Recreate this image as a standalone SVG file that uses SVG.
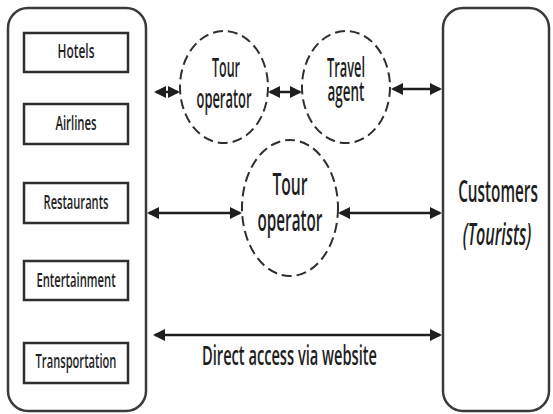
<svg xmlns="http://www.w3.org/2000/svg" width="553" height="414" viewBox="0 0 553 414">
  <style>
    .panel { fill: #ffffff; stroke: #3a3a3a; stroke-width: 2.5; }
    .item { fill: #ffffff; stroke: #2e2e2e; stroke-width: 2.5; }
    .agent { fill: #ffffff; stroke: #2e2e2e; stroke-width: 2; stroke-dasharray: 10 5; }
    .lbl { font-family: "Open Sans", "Liberation Sans", sans-serif; font-weight: 600; fill: #1e1e1e; text-anchor: middle; }
    .flow { stroke: #1e1e1e; stroke-width: 2.5; fill: none; marker-start: url(#head); marker-end: url(#head); }
  </style>
  <defs>
    <marker id="head" markerUnits="userSpaceOnUse" markerWidth="12" markerHeight="12" refX="10" refY="6" orient="auto-start-reverse">
      <path d="M0,0 L12,6 L0,12 z" fill="#1e1e1e"/>
    </marker>
  </defs>

  <rect width="553" height="414" fill="#ffffff"/>

  <!-- Labels are set in a narrow face: each text is squeezed to 55% width -->

  <!-- Suppliers panel -->
  <g id="suppliers">
    <rect class="panel" x="8" y="8" width="138" height="403" rx="20"/>
  </g>
  <g id="hotels">
    <rect class="item" x="24" y="33" width="104" height="39"/>
    <text class="lbl" transform="translate(76,58) scale(0.55,1)" font-size="20" textLength="67" lengthAdjust="spacingAndGlyphs">Hotels</text>
  </g>
  <g id="airlines">
    <rect class="item" x="24" y="104" width="104" height="40"/>
    <text class="lbl" transform="translate(76,130) scale(0.55,1)" font-size="20" textLength="75" lengthAdjust="spacingAndGlyphs">Airlines</text>
  </g>
  <g id="restaurants">
    <rect class="item" x="24" y="183" width="104" height="40"/>
    <text class="lbl" transform="translate(76,209) scale(0.55,1)" font-size="20" textLength="118" lengthAdjust="spacingAndGlyphs">Restaurants</text>
  </g>
  <g id="entertainment">
    <rect class="item" x="24" y="261" width="104" height="39"/>
    <text class="lbl" transform="translate(76,287) scale(0.55,1)" font-size="20" textLength="144" lengthAdjust="spacingAndGlyphs">Entertainment</text>
  </g>
  <g id="transportation">
    <rect class="item" x="24" y="343" width="104" height="40"/>
    <text class="lbl" transform="translate(76,368) scale(0.55,1)" font-size="20" textLength="147" lengthAdjust="spacingAndGlyphs">Transportation</text>
  </g>

  <!-- Intermediaries -->
  <g id="tour-operator-small">
    <ellipse class="agent" cx="224" cy="87" rx="44" ry="56"/>
    <text class="lbl" transform="translate(226,77) scale(0.55,1)" font-size="27" textLength="51" lengthAdjust="spacingAndGlyphs">Tour</text>
    <text class="lbl" transform="translate(224,108) scale(0.55,1)" font-size="27" textLength="100" lengthAdjust="spacingAndGlyphs">operator</text>
  </g>
  <g id="travel-agent">
    <ellipse class="agent" cx="346" cy="87" rx="44" ry="56"/>
    <text class="lbl" transform="translate(346,77) scale(0.55,1)" font-size="27" textLength="69" lengthAdjust="spacingAndGlyphs">Travel</text>
    <text class="lbl" transform="translate(346,101) scale(0.55,1)" font-size="27" textLength="67" lengthAdjust="spacingAndGlyphs">agent</text>
  </g>
  <g id="tour-operator">
    <ellipse class="agent" cx="290" cy="208" rx="48" ry="68"/>
    <text class="lbl" transform="translate(290,195) scale(0.55,1)" font-size="30" textLength="64" lengthAdjust="spacingAndGlyphs">Tour</text>
    <text class="lbl" transform="translate(290,231) scale(0.55,1)" font-size="30" textLength="118" lengthAdjust="spacingAndGlyphs">operator</text>
  </g>

  <!-- Customers panel -->
  <g id="customers">
    <rect class="panel" x="443" y="8" width="106" height="403" rx="20"/>
    <text class="lbl" transform="translate(498,202) scale(0.55,1)" font-size="30" textLength="145" lengthAdjust="spacingAndGlyphs">Customers</text>
    <text class="lbl" transform="translate(497,245) scale(0.55,1)" font-size="30" font-style="italic" textLength="125" lengthAdjust="spacingAndGlyphs">(Tourists)</text>
  </g>

  <!-- Connectors -->
  <g id="connectors">
    <line class="flow" x1="156" y1="92" x2="178" y2="92"/>
    <line class="flow" x1="270" y1="92" x2="300" y2="92"/>
    <line class="flow" x1="393" y1="89" x2="440" y2="89"/>
    <line class="flow" x1="149" y1="213" x2="240" y2="213"/>
    <line class="flow" x1="340" y1="213" x2="440" y2="213"/>
    <line class="flow" x1="155" y1="335" x2="440" y2="335"/>
    <text class="lbl" transform="translate(289.5,365) scale(0.55,1)" font-size="27" textLength="318" lengthAdjust="spacingAndGlyphs">Direct access via website</text>
  </g>
</svg>
